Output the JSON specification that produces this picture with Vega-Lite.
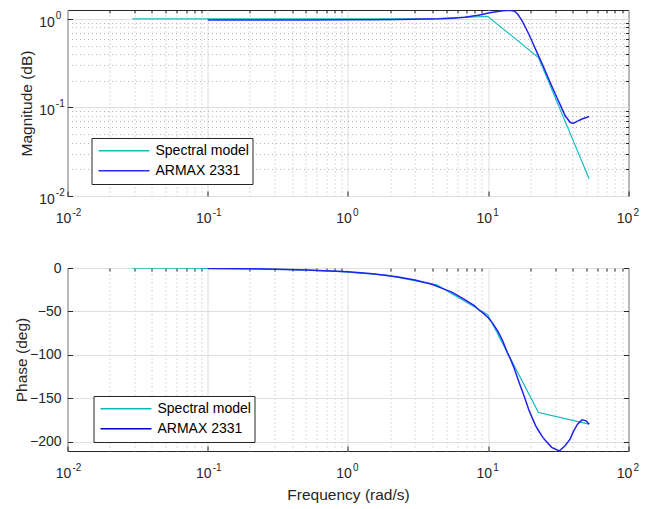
{
  "$schema": "https://vega.github.io/schema/vega-lite/v6.json",
  "background": "white",
  "padding": {"left": 13.5, "top": 9, "right": 5, "bottom": 5},
  "spacing": 34,
  "config": {
    "font": "Liberation Sans",
    "view": {"stroke": "#262626", "strokeWidth": 1},
    "axis": {
      "labelFont": "Liberation Sans", "labelFontSize": 14, "labelColor": "#262626",
      "titleFont": "Liberation Sans", "titleFontSize": 15.5, "titleFontWeight": "normal", "titleColor": "#262626",
      "domain": false, "tickColor": "#262626", "labelFlush": false, "labelOverlap": false
    },
    "legend": {
      "orient": "none", "title": null, "fillColor": "white", "strokeColor": "#262626",
      "padding": 3, "symbolType": "stroke", "symbolSize": 2601, "symbolStrokeWidth": 1.3,
      "clipHeight": 19.5, "rowPadding": 0, "symbolOffset": 3, "labelOffset": 5,
      "labelFont": "Liberation Sans", "labelFontSize": 14, "labelColor": "#000000"
    }
  },
  "datasets": {
    "bode": [
      {"series": "Spectral model", "f": 0.029, "mag": 1.0, "phase": -0.1},
      {"series": "Spectral model", "f": 0.067, "mag": 1.0, "phase": -0.3},
      {"series": "Spectral model", "f": 0.154, "mag": 1.0, "phase": -0.7},
      {"series": "Spectral model", "f": 0.35, "mag": 1.0, "phase": -1.5},
      {"series": "Spectral model", "f": 0.81, "mag": 1.0, "phase": -3.6},
      {"series": "Spectral model", "f": 1.87, "mag": 1.0, "phase": -8.3},
      {"series": "Spectral model", "f": 4.3, "mag": 1.01, "phase": -19.5},
      {"series": "Spectral model", "f": 9.9, "mag": 1.07, "phase": -53.6},
      {"series": "Spectral model", "f": 22.8, "mag": 0.366, "phase": -166.3},
      {"series": "Spectral model", "f": 52.4, "mag": 0.0157, "phase": -179.7},
      {"series": "ARMAX 2331", "f": 0.1, "mag": 0.972, "phase": -0.45},
      {"series": "ARMAX 2331", "f": 0.2, "mag": 0.972, "phase": -0.9},
      {"series": "ARMAX 2331", "f": 0.5, "mag": 0.973, "phase": -2.2},
      {"series": "ARMAX 2331", "f": 1.0, "mag": 0.975, "phase": -4.4},
      {"series": "ARMAX 2331", "f": 1.5, "mag": 0.978, "phase": -6.6},
      {"series": "ARMAX 2331", "f": 2.28, "mag": 0.982, "phase": -10.3},
      {"series": "ARMAX 2331", "f": 3.0, "mag": 0.988, "phase": -13.8},
      {"series": "ARMAX 2331", "f": 3.9, "mag": 0.998, "phase": -18.5},
      {"series": "ARMAX 2331", "f": 4.6, "mag": 1.005, "phase": -22.9},
      {"series": "ARMAX 2331", "f": 5.5, "mag": 1.02, "phase": -27.8},
      {"series": "ARMAX 2331", "f": 6.8, "mag": 1.045, "phase": -36.4},
      {"series": "ARMAX 2331", "f": 8.0, "mag": 1.085, "phase": -43.5},
      {"series": "ARMAX 2331", "f": 8.5, "mag": 1.1, "phase": -47.8},
      {"series": "ARMAX 2331", "f": 9.2, "mag": 1.13, "phase": -52.0},
      {"series": "ARMAX 2331", "f": 10.0, "mag": 1.165, "phase": -57.3},
      {"series": "ARMAX 2331", "f": 10.8, "mag": 1.19, "phase": -64.0},
      {"series": "ARMAX 2331", "f": 11.7, "mag": 1.215, "phase": -72.7},
      {"series": "ARMAX 2331", "f": 12.7, "mag": 1.235, "phase": -84.0},
      {"series": "ARMAX 2331", "f": 13.7, "mag": 1.245, "phase": -97.5},
      {"series": "ARMAX 2331", "f": 14.5, "mag": 1.245, "phase": -106.0},
      {"series": "ARMAX 2331", "f": 15.4, "mag": 1.22, "phase": -116.6},
      {"series": "ARMAX 2331", "f": 16.3, "mag": 1.12, "phase": -128.0},
      {"series": "ARMAX 2331", "f": 16.8, "mag": 1.04, "phase": -134.0},
      {"series": "ARMAX 2331", "f": 17.3, "mag": 0.97, "phase": -139.6},
      {"series": "ARMAX 2331", "f": 18.3, "mag": 0.82, "phase": -150.5},
      {"series": "ARMAX 2331", "f": 19.4, "mag": 0.68, "phase": -162.5},
      {"series": "ARMAX 2331", "f": 20.4, "mag": 0.57, "phase": -171.0},
      {"series": "ARMAX 2331", "f": 21.8, "mag": 0.45, "phase": -181.6},
      {"series": "ARMAX 2331", "f": 22.8, "mag": 0.385, "phase": -187.0},
      {"series": "ARMAX 2331", "f": 24.5, "mag": 0.3, "phase": -194.9},
      {"series": "ARMAX 2331", "f": 25.4, "mag": 0.261, "phase": -198.0},
      {"series": "ARMAX 2331", "f": 28.3, "mag": 0.176, "phase": -206.4},
      {"series": "ARMAX 2331", "f": 31.6, "mag": 0.119, "phase": -210.0},
      {"series": "ARMAX 2331", "f": 32.2, "mag": 0.112, "phase": -210.3},
      {"series": "ARMAX 2331", "f": 35.3, "mag": 0.081, "phase": -204.6},
      {"series": "ARMAX 2331", "f": 38.3, "mag": 0.068, "phase": -197.0},
      {"series": "ARMAX 2331", "f": 39.7, "mag": 0.0665, "phase": -191.2},
      {"series": "ARMAX 2331", "f": 40.5, "mag": 0.0665, "phase": -188.0},
      {"series": "ARMAX 2331", "f": 43.3, "mag": 0.07, "phase": -179.7},
      {"series": "ARMAX 2331", "f": 46.6, "mag": 0.074, "phase": -174.8},
      {"series": "ARMAX 2331", "f": 50.0, "mag": 0.077, "phase": -175.9},
      {"series": "ARMAX 2331", "f": 52.4, "mag": 0.079, "phase": -179.7}
    ]
  },
  "resolve": {"scale": {"color": "independent"}},
  "vconcat": [
    {
      "width": 561,
      "height": 186,
      "data": {"name": "bode"},
      "resolve": {"axis": {"x": "independent", "y": "independent"}},
      "layer": [
        {
          "transform": [{"filter": "datum.series == 'Spectral model'"}],
          "mark": {"type": "line", "strokeWidth": 1.2, "clip": true},
          "encoding": {
            "x": {"field": "f", "type": "quantitative",
              "scale": {"type": "log", "domain": [0.01, 100], "nice": false},
              "axis": {"orient": "top", "values": [0.02,0.03,0.04,0.05,0.06,0.07,0.08,0.09,0.2,0.3,0.4,0.5,0.6,0.7,0.8,0.9,2,3,4,5,6,7,8,9,20,30,40,50,60,70,80,90],
                "labels": false, "title": null, "grid": true, "gridDash": [1, 3], "gridColor": "#b4b4b4", "ticks": true, "tickSize": -3}},
            "y": {"field": "mag", "type": "quantitative",
              "scale": {"type": "log", "domain": [0.01, 1.26], "nice": false},
              "axis": {"orient": "right", "values": [0.02,0.03,0.04,0.05,0.06,0.07,0.08,0.09,0.2,0.3,0.4,0.5,0.6,0.7,0.8,0.9],
                "labels": false, "title": null, "grid": true, "gridDash": [1, 3], "gridColor": "#b4b4b4", "ticks": true, "tickSize": -3}},
            "color": {"field": "series", "type": "nominal",
              "scale": {"domain": ["Spectral model", "ARMAX 2331"], "range": ["#17BEBE", "#2A2AF0"]},
              "legend": {"legendX": 24, "legendY": 128}}
          }
        },
        {
          "transform": [{"filter": "datum.series == 'ARMAX 2331'"}],
          "mark": {"type": "line", "strokeWidth": 1.5, "color": "#2222EE", "clip": true},
          "encoding": {
            "x": {"field": "f", "type": "quantitative",
              "scale": {"type": "log", "domain": [0.01, 100], "nice": false},
              "axis": {"orient": "bottom", "values": [0.01, 0.1, 1, 10, 100], "labelExpr": "'10'", "labelOffset": -4.5, "labelAlign": "center",
                "title": null, "grid": true, "gridColor": "#dedede", "ticks": true, "tickSize": -5, "labelPadding": 20}},
            "y": {"field": "mag", "type": "quantitative",
              "scale": {"type": "log", "domain": [0.01, 1.26], "nice": false},
              "axis": {"orient": "left", "values": [0.01, 0.1, 1], "labelExpr": "'10'", "labelOffset": 3.5,
                "title": "Magnitude (dB)", "titlePadding": 4.2, "grid": true, "gridColor": "#dedede", "ticks": true, "tickSize": -5, "labelPadding": 18.2}}
          }
        },
        {
          "transform": [{"filter": "datum.series == 'ARMAX 2331'"}],
          "mark": {"type": "line", "strokeOpacity": 0, "clip": true},
          "encoding": {
            "x": {"field": "f", "type": "quantitative",
              "scale": {"type": "log", "domain": [0.01, 100], "nice": false},
              "axis": {"orient": "bottom", "values": [0.01, 0.1, 1, 10, 100],
                "labelExpr": "datum.value < 0.05 ? '-2' : datum.value < 0.5 ? '-1' : datum.value < 5 ? '0' : datum.value < 50 ? '1' : '2'",
                "labelFontSize": 10, "labelAlign": "left", "labelOffset": 4.5, "labelPadding": 11.7,
                "title": null, "grid": false, "ticks": false}},
            "y": {"field": "mag", "type": "quantitative",
              "scale": {"type": "log", "domain": [0.01, 1.26], "nice": false},
              "axis": {"orient": "left", "values": [0.01, 0.1, 1],
                "labelExpr": "datum.value < 0.05 ? '-2' : datum.value < 0.5 ? '-1' : '0'",
                "labelFontSize": 10, "labelAlign": "left", "labelOffset": -3.5, "labelPadding": 12.2,
                "title": null, "grid": false, "ticks": false}}
          }
        }
      ]
    },
    {
      "width": 561,
      "height": 183,
      "data": {"name": "bode"},
      "resolve": {"axis": {"x": "independent", "y": "independent"}},
      "layer": [
        {
          "transform": [{"filter": "datum.series == 'Spectral model'"}],
          "mark": {"type": "line", "strokeWidth": 1.2, "clip": true},
          "encoding": {
            "x": {"field": "f", "type": "quantitative",
              "scale": {"type": "log", "domain": [0.01, 100], "nice": false},
              "axis": {"orient": "top", "values": [0.02,0.03,0.04,0.05,0.06,0.07,0.08,0.09,0.2,0.3,0.4,0.5,0.6,0.7,0.8,0.9,2,3,4,5,6,7,8,9,20,30,40,50,60,70,80,90],
                "labels": false, "title": null, "grid": true, "gridDash": [1, 3], "gridColor": "#b4b4b4", "ticks": true, "tickSize": -3}},
            "y": {"field": "phase", "type": "quantitative",
              "scale": {"domain": [-210.6, 0], "nice": false, "zero": false},
              "axis": {"orient": "right", "values": [-200, -150, -100, -50, 0],
                "labels": false, "title": null, "grid": false, "ticks": true, "tickSize": -5}},
            "color": {"field": "series", "type": "nominal",
              "scale": {"domain": ["Spectral model", "ARMAX 2331"], "range": ["#0FB8B8", "#0000C8"]},
              "legend": {"legendX": 26, "legendY": 128}}
          }
        },
        {
          "transform": [{"filter": "datum.series == 'ARMAX 2331'"}],
          "mark": {"type": "line", "strokeWidth": 1.5, "color": "#2222EE", "clip": true},
          "encoding": {
            "x": {"field": "f", "type": "quantitative",
              "scale": {"type": "log", "domain": [0.01, 100], "nice": false},
              "axis": {"orient": "bottom", "values": [0.01, 0.1, 1, 10, 100], "labelExpr": "'10'", "labelOffset": -4.5, "labelAlign": "center",
                "title": "Frequency (rad/s)", "titlePadding": 7, "grid": true, "gridColor": "#dedede", "ticks": true, "tickSize": -5, "labelPadding": 20}},
            "y": {"field": "phase", "type": "quantitative",
              "scale": {"domain": [-210.6, 0], "nice": false, "zero": false},
              "axis": {"orient": "left", "values": [-200, -150, -100, -50, 0],
                "title": "Phase (deg)", "titlePadding": 0, "grid": true, "gridColor": "#dedede", "ticks": true, "tickSize": -5, "labelPadding": 11.4}}
          }
        },
        {
          "transform": [{"filter": "datum.series == 'ARMAX 2331'"}],
          "mark": {"type": "line", "strokeOpacity": 0, "clip": true},
          "encoding": {
            "x": {"field": "f", "type": "quantitative",
              "scale": {"type": "log", "domain": [0.01, 100], "nice": false},
              "axis": {"orient": "bottom", "values": [0.01, 0.1, 1, 10, 100],
                "labelExpr": "datum.value < 0.05 ? '-2' : datum.value < 0.5 ? '-1' : datum.value < 5 ? '0' : datum.value < 50 ? '1' : '2'",
                "labelFontSize": 10, "labelAlign": "left", "labelOffset": 4.5, "labelPadding": 11.7,
                "title": null, "grid": false, "ticks": false}},
            "y": {"field": "phase", "type": "quantitative",
              "scale": {"domain": [-210.6, 0], "nice": false, "zero": false},
              "axis": null}
          }
        }
      ]
    }
  ]
}
